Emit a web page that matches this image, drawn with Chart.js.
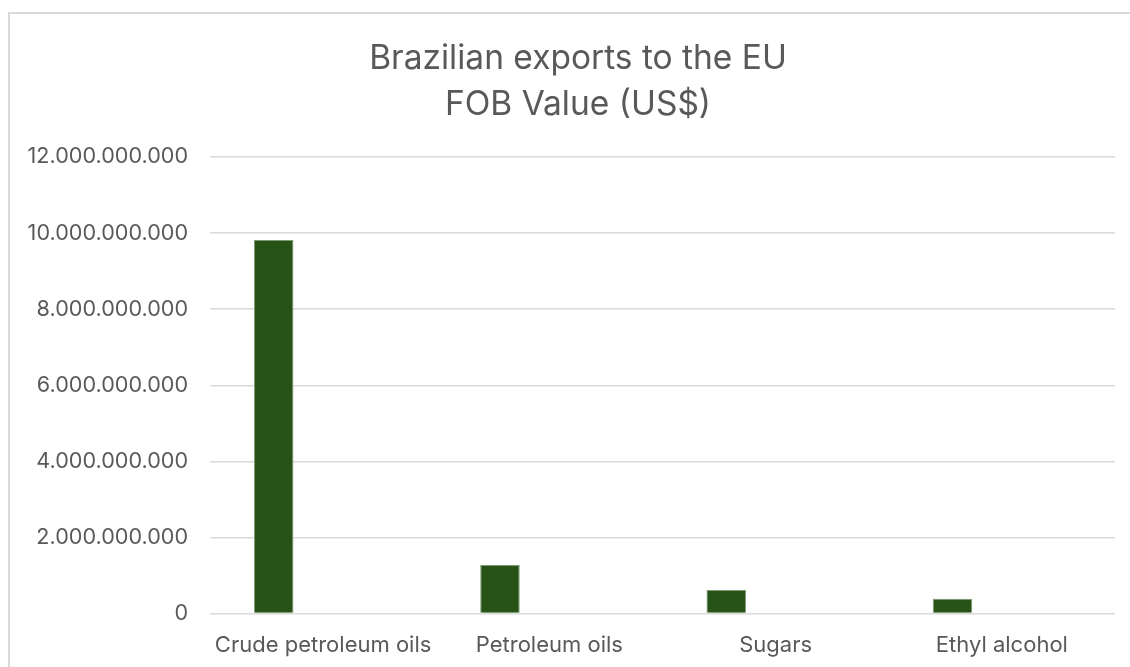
<!DOCTYPE html>
<html>
<head>
<meta charset="utf-8">
<script src="https://cdn.jsdelivr.net/npm/chart.js@4.4.1/dist/chart.umd.min.js"></script>
<style>
    html, body { margin: 0; padding: 0; background: #fff; overflow: hidden; }
    #frame {
        position: absolute; left: 8px; top: 12px;
        width: 1200px; height: 720px;
        border-left: 2px solid #d9d9d9;
        border-top: 2px solid #d9d9d9;
    }
    #wrap { position: absolute; left: 0; top: 0; width: 1130px; height: 688px; }
</style>
</head>
<body>
<div id="frame"></div>
<div id="wrap"><canvas id="myChart"></canvas></div>
<script>
// products along the x axis
const products = ['Crude petroleum oils', 'Petroleum oils', 'Sugars', 'Ethyl alcohol'];
// FOB value in US$
const fobValues = [9820000000, 1280000000, 620000000, 390000000];
// the sheet has two more (empty) series that still take up a slot in each group
const emptySeries = [null, null, null, null];

const yMax = 12000000000;
const yStep = 2000000000;

const textGrey = '#595959';
const barGreen = '#275317';

// 12000000000 -> 12.000.000.000
function dotThousands(v) {
    return String(Math.round(v)).replace(/\B(?=(\d{3})+(?!\d))/g, '.');
}

// title is centred on the whole frame, which runs a bit past the right edge
const shiftTitle = {
    id: 'shiftTitle',
    afterLayout(chart) {
        if (chart.titleBlock) chart.titleBlock.left += 13;
    }
};

function createChart() {
    const ctx = document.getElementById('myChart');
    const myChart = new Chart(ctx, {
        type: 'bar',
        data: {
            labels: products,
            datasets: [
                {
                    label: 'FOB Value (US$)',
                    data: fobValues,
                    backgroundColor: barGreen,
                    borderColor: '#7f9a72',
                    borderWidth: 1,
                },
                { label: '', data: emptySeries, backgroundColor: barGreen, borderWidth: 0 },
                { label: '', data: emptySeries, backgroundColor: barGreen, borderWidth: 0 },
            ]
        },
        options: {
            responsive: true,
            maintainAspectRatio: false,
            animation: false,
            categoryPercentage: 0.655,
            barPercentage: 0.8,
            layout: {
                padding: { top: 0, left: 28, right: 15, bottom: 10 }
            },
            scales: {
                x: {
                    grid: { display: false, drawTicks: false },
                    border: { display: false },
                    ticks: {
                        color: textGrey,
                        padding: 19,
                        maxRotation: 0,
                        font: { family: 'Inter', size: 22 }
                    }
                },
                y: {
                    min: 0,
                    max: yMax,
                    grid: { color: '#d9d9d9', lineWidth: 1.5, drawTicks: false },
                    border: { display: false },
                    afterFit: function(scale) { scale.width = 182; },
                    ticks: {
                        stepSize: yStep,
                        color: textGrey,
                        padding: 22,
                        font: { family: 'Inter', size: 21.6 },
                        callback: function(val) { return dotThousands(val); }
                    }
                }
            },
            plugins: {
                legend: { display: false },
                tooltip: { enabled: false },
                title: {
                    display: true,
                    text: ['Brazilian exports to the EU', 'FOB Value (US$)'],
                    color: textGrey,
                    font: { family: 'Inter', size: 33.5, weight: 'normal', lineHeight: 1.373 },
                    padding: { top: 36, bottom: 29 }
                }
            }
        },
        plugins: [shiftTitle]
    });
}

createChart();
</script>
</body>
</html>
